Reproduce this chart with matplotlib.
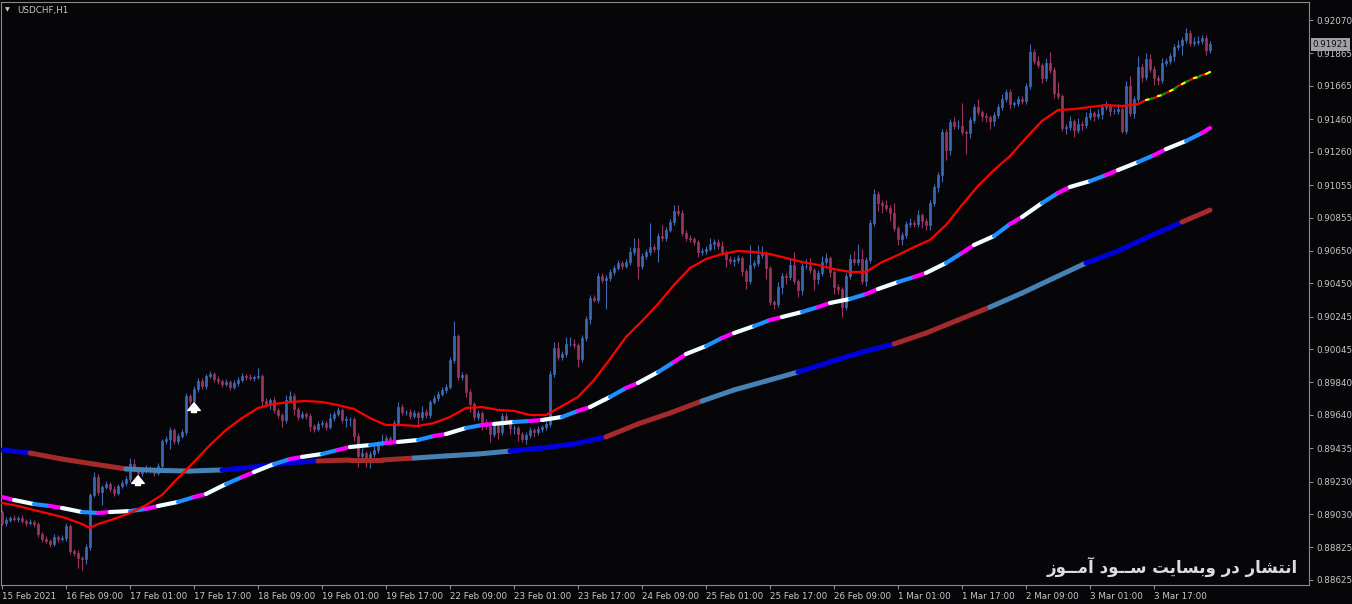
import matplotlib
matplotlib.use("Agg")
import matplotlib.pyplot as plt
import numpy as np
from matplotlib.collections import LineCollection

# ---- candles (H1, USDCHF) ----
first_open = 0.89043
closes = [
    0.88976, 0.88994, 0.89006, 0.89000, 0.89006, 0.88988, 0.88976, 0.88982, 0.88969, 0.88908,
    0.88877, 0.88865, 0.88846, 0.88889, 0.88877, 0.88883, 0.88957, 0.88803, 0.88791, 0.88760,
    0.88754, 0.88828, 0.89148, 0.89258, 0.89166, 0.89197, 0.89215, 0.89185, 0.89160, 0.89203,
    0.89222, 0.89246, 0.89338, 0.89302, 0.89283, 0.89295, 0.89314, 0.89302, 0.89283, 0.89326,
    0.89480, 0.89492, 0.89548, 0.89480, 0.89511, 0.89535, 0.89757, 0.89726, 0.89800, 0.89849,
    0.89818, 0.89880, 0.89892, 0.89861, 0.89849, 0.89831, 0.89843, 0.89812, 0.89837, 0.89855,
    0.89880, 0.89874, 0.89868, 0.89874, 0.89880, 0.89726, 0.89708, 0.89732, 0.89671, 0.89640,
    0.89609, 0.89732, 0.89757, 0.89677, 0.89628, 0.89646, 0.89634, 0.89572, 0.89554, 0.89585,
    0.89591, 0.89566, 0.89621, 0.89646, 0.89671, 0.89609, 0.89615, 0.89615, 0.89511, 0.89388,
    0.89406, 0.89351, 0.89400, 0.89425, 0.89462, 0.89480, 0.89498, 0.89480, 0.89591, 0.89689,
    0.89658, 0.89658, 0.89634, 0.89652, 0.89628, 0.89658, 0.89640, 0.89720, 0.89745, 0.89769,
    0.89794, 0.89812, 0.89978, 0.90126, 0.89874, 0.89886, 0.89781, 0.89708, 0.89628, 0.89652,
    0.89597, 0.89572, 0.89523, 0.89572, 0.89535, 0.89634, 0.89603, 0.89560, 0.89560, 0.89523,
    0.89492, 0.89517, 0.89548, 0.89535, 0.89554, 0.89566, 0.89585, 0.89892, 0.90052, 0.89997,
    0.90015, 0.90077, 0.90077, 0.90071, 0.89984, 0.90114, 0.90231, 0.90360, 0.90347, 0.90495,
    0.90470, 0.90483, 0.90520, 0.90544, 0.90575, 0.90557, 0.90581, 0.90643, 0.90667, 0.90557,
    0.90618, 0.90643, 0.90673, 0.90661, 0.90741, 0.90729, 0.90778, 0.90827, 0.90895, 0.90883,
    0.90760, 0.90729, 0.90723, 0.90704, 0.90643, 0.90649, 0.90661, 0.90692, 0.90704, 0.90680,
    0.90643, 0.90600, 0.90587, 0.90593, 0.90606, 0.90526, 0.90464, 0.90563, 0.90575, 0.90624,
    0.90637, 0.90544, 0.90335, 0.90323, 0.90427, 0.90495, 0.90489, 0.90563, 0.90464, 0.90409,
    0.90557, 0.90557, 0.90532, 0.90477, 0.90514, 0.90581, 0.90606, 0.90520, 0.90427, 0.90415,
    0.90304, 0.90495, 0.90600, 0.90581, 0.90600, 0.90464, 0.90593, 0.90821, 0.91000, 0.90944,
    0.90932, 0.90913, 0.90883, 0.90790, 0.90723, 0.90747, 0.90815, 0.90821, 0.90815, 0.90870,
    0.90833, 0.90809, 0.90944, 0.91043, 0.91116, 0.91381, 0.91270, 0.91442, 0.91418, 0.91418,
    0.91381, 0.91375, 0.91455, 0.91535, 0.91504, 0.91479, 0.91473, 0.91449, 0.91486, 0.91535,
    0.91584, 0.91627, 0.91553, 0.91559, 0.91584, 0.91572, 0.91664, 0.91873, 0.91818, 0.91793,
    0.91713, 0.91805, 0.91762, 0.91621, 0.91602, 0.91406, 0.91412, 0.91449, 0.91393, 0.91430,
    0.91424, 0.91473, 0.91498, 0.91479, 0.91492, 0.91535, 0.91541, 0.91510, 0.91510, 0.91522,
    0.91387, 0.91664, 0.91498, 0.91584, 0.91781, 0.91719, 0.91830, 0.91769, 0.91713, 0.91701,
    0.91805, 0.91818, 0.91848, 0.91904, 0.91916, 0.91947, 0.91990, 0.91928, 0.91935, 0.91941,
    0.91959, 0.91885, 0.91921,
]
# wick lengths above / below the body, in pips
wick_up = [
    1, 2, 1, 2, 1, 2, 1, 2, 1, 1,   1, 2, 1, 2, 1, 2, 2, 1, 1, 2,
    1, 2, 1, 3, 2, 1, 2, 1, 2, 1,   2, 2, 4, 3, 2, 1, 2, 1, 2, 2,
    1, 2, 2, 1, 2, 2, 2, 1, 2, 2,   2, 1, 2, 1, 2, 1, 2, 1, 2, 2,
    2, 1, 2, 1, 5, 1, 2, 1, 2, 1,   1, 3, 3, 2, 1, 2, 1, 2, 1, 2,
    2, 1, 3, 2, 2, 1, 2, 1, 1, 2,   3, 1, 2, 3, 2, 4, 2, 1, 2, 3,
    2, 1, 2, 2, 1, 4, 2, 1, 2, 2,   2, 2, 2, 9, 1, 2, 1, 2, 1, 2,
    1, 2, 1, 2, 1, 2, 2, 1, 2, 1,   1, 2, 2, 1, 2, 1, 2, 2, 4, 4,
    2, 4, 4, 3, 1, 2, 2, 2, 2, 2,   2, 2, 2, 2, 2, 1, 2, 3, 6, 6,
    2, 2, 15, 2, 2, 7, 2, 2, 4, 4,  2, 2, 2, 1, 1, 2, 2, 4, 2, 2,
    3, 1, 2, 2, 2, 1, 1, 12, 2, 6,  4, 1, 1, 1, 3, 2, 2, 4, 8, 1,
    2, 4, 5, 1, 2, 4, 3, 1, 1, 2,   1, 2, 3, 5, 9, 6, 2, 2, 3, 2,
    2, 3, 2, 6, 1, 2, 2, 3, 2, 3,   1, 2, 2, 2, 2, 2, 2, 2, 3, 4,
    14, 1, 2, 2, 5, 1, 2, 1, 2, 2,  3, 2, 2, 1, 2, 2, 2, 5, 2, 3,
    1, 3, 7, 2, 7, 1, 2, 3, 1, 4,   2, 3, 3, 1, 3, 2, 3, 1, 2, 3,
    1, 3, 6, 2, 7, 2, 4, 3, 2, 2,   3, 2, 2, 2, 3, 2, 3, 2, 3, 3,
    2, 2, 2,
]
wick_dn = [
    1, 2, 1, 1, 2, 1, 2, 1, 2, 2,   2, 1, 2, 1, 2, 1, 2, 2, 2, 6,
    7, 3, 2, 1, 2, 8, 1, 2, 2, 1,   1, 2, 2, 1, 2, 2, 1, 2, 2, 1,
    2, 2, 6, 2, 2, 1, 2, 2, 1, 2,   2, 2, 1, 2, 2, 2, 1, 2, 1, 2,
    1, 2, 1, 2, 1, 3, 2, 3, 2, 2,   4, 2, 1, 4, 2, 1, 2, 3, 2, 1,
    2, 2, 1, 2, 1, 2, 4, 4, 3, 7,   2, 3, 4, 2, 2, 1, 2, 2, 1, 2,
    2, 2, 2, 1, 6, 2, 2, 2, 1, 2,   1, 2, 1, 2, 2, 2, 3, 5, 2, 2,
    5, 2, 5, 2, 4, 2, 2, 4, 4, 4,   2, 3, 2, 3, 2, 2, 2, 2, 2, 2,
    2, 2, 1, 2, 5, 2, 2, 3, 1, 2,   2, 18, 2, 2, 1, 2, 1, 2, 2, 8,
    2, 2, 2, 2, 8, 2, 2, 1, 2, 2,   2, 2, 2, 2, 3, 2, 2, 1, 3, 2,
    2, 5, 2, 3, 2, 3, 5, 2, 2, 2,   2, 7, 2, 3, 2, 4, 4, 2, 2, 4,
    3, 2, 2, 7, 3, 2, 2, 3, 4, 3,   6, 2, 2, 2, 2, 2, 3, 2, 2, 5,
    5, 2, 5, 2, 4, 4, 2, 2, 2, 2,   4, 3, 3, 2, 3, 4, 6, 3, 2, 2,
    2, 13, 3, 2, 2, 3, 3, 5, 3, 2,  2, 2, 3, 2, 2, 2, 2, 2, 2, 2,
    3, 2, 2, 3, 2, 2, 4, 2, 4, 2,   3, 2, 2, 3, 2, 3, 2, 3, 2, 2,
    1, 2, 2, 3, 2, 3, 2, 2, 4, 3,   2, 2, 2, 3, 2, 6, 2, 2, 2, 2,
    2, 3, 2,
]

# ---- fast MA (red, last bars drawn in signal colours) ----
fast_bars = [
    0, 4, 8, 12, 16, 20, 22, 24, 28, 32, 36, 40, 44, 48, 52, 56, 60, 64, 68, 72,
    76, 80, 84, 88, 92, 96, 100, 104, 108, 112, 116, 120, 124, 128, 132, 136, 140, 144, 148, 152,
    156, 160, 164, 168, 172, 176, 180, 184, 188, 192, 196, 200, 204, 208, 212, 216, 220, 224, 228, 232,
    236, 240, 244, 248, 252, 256, 260, 264, 268, 272, 276, 280, 284,
    286, 287, 288, 289, 290, 291, 292, 293, 294, 295, 296, 297, 298, 299, 300, 301, 302,
]
fast_vals = [
    0.89099, 0.89080, 0.89055, 0.89031, 0.89006, 0.88969, 0.88945, 0.88969, 0.89000, 0.89037,
    0.89086, 0.89148, 0.89252, 0.89351, 0.89455, 0.89548, 0.89621, 0.89683, 0.89708, 0.89720,
    0.89726, 0.89720, 0.89701, 0.89677, 0.89621, 0.89578, 0.89578, 0.89572, 0.89591, 0.89628,
    0.89683, 0.89689, 0.89671, 0.89665, 0.89640, 0.89640, 0.89695, 0.89751, 0.89855, 0.89984,
    0.90120, 0.90218, 0.90323, 0.90440, 0.90544, 0.90600, 0.90630, 0.90649, 0.90643, 0.90630,
    0.90606, 0.90581, 0.90563, 0.90538, 0.90520, 0.90520, 0.90581, 0.90624, 0.90673, 0.90717,
    0.90809, 0.90932, 0.91049, 0.91147, 0.91233, 0.91344, 0.91449, 0.91516, 0.91522, 0.91535,
    0.91547, 0.91541, 0.91553,
    0.91578, 0.91584, 0.91590, 0.91602, 0.91609, 0.91621, 0.91633, 0.91645, 0.91664, 0.91676,
    0.91689, 0.91701, 0.91713, 0.91719, 0.91732, 0.91738, 0.91750,
]
# state of each segment: 0 normal, 1 yellow, 2 green
fast_state = [0] * 73 + [1, 2, 0, 1, 2, 0, 1, 2, 0, 1, 2, 0, 1, 2, 0, 1]

# ---- medium MA (magenta / white / blue) ----
mid_bars = [
    0, 3, 8, 12, 15, 20, 24, 27, 32, 36, 39, 44, 48, 51, 56, 60, 63, 68, 72, 75,
    80, 84, 87, 92, 96, 99, 104, 108, 111, 116, 120, 123, 128, 132, 135, 140, 144, 147, 152, 156,
    159, 164, 168, 171, 176, 180, 183, 188, 192, 195, 200, 204, 207, 212, 216, 219, 224, 228, 231, 236,
    240, 243, 248, 252, 255, 260, 264, 267, 272, 276, 279, 284, 288, 291, 296, 300, 302,
]
mid_vals = [
    0.89135, 0.89117, 0.89092, 0.89080, 0.89068, 0.89043, 0.89037, 0.89043, 0.89049, 0.89062,
    0.89080, 0.89105, 0.89135, 0.89154, 0.89215, 0.89258, 0.89289, 0.89338, 0.89369, 0.89382,
    0.89400, 0.89425, 0.89443, 0.89455, 0.89468, 0.89474, 0.89486, 0.89511, 0.89523, 0.89560,
    0.89578, 0.89585, 0.89597, 0.89603, 0.89609, 0.89628, 0.89665, 0.89689, 0.89751, 0.89806,
    0.89837, 0.89904, 0.89966, 0.90015, 0.90064, 0.90114, 0.90144, 0.90187, 0.90224, 0.90243,
    0.90274, 0.90304, 0.90329, 0.90354, 0.90384, 0.90415, 0.90458, 0.90489, 0.90514, 0.90575,
    0.90637, 0.90686, 0.90741, 0.90815, 0.90858, 0.90944, 0.91006, 0.91043, 0.91079, 0.91116,
    0.91147, 0.91196, 0.91239, 0.91276, 0.91326, 0.91375, 0.91406,
]
mid_state = [
    0, 1, 2, 0, 1, 2, 0, 1, 2, 0, 1, 2, 0, 1, 2, 0, 1, 2, 0, 1,
    2, 0, 1, 2, 0, 1, 2, 0, 1, 2, 0, 1, 2, 0, 1, 2, 0, 1, 2, 0,
    1, 2, 0, 1, 2, 0, 1, 2, 0, 1, 2, 0, 1, 2, 0, 1, 2, 0, 1, 2,
    0, 1, 2, 0, 1, 2, 0, 1, 2, 0, 1, 2, 0, 1, 2, 0,
]

# ---- slow MA (blue / brown / steel blue) ----
slow_bars = [
    0, 7, 15, 23, 31, 39, 47, 55, 63, 71, 79, 87, 95, 103, 111, 119, 127, 135, 143, 151,
    159, 167, 175, 183, 191, 199, 207, 215, 223, 231, 239, 247, 255, 263, 271, 279, 287, 295, 302,
]
slow_vals = [
    0.89425, 0.89406, 0.89369, 0.89338, 0.89308, 0.89299, 0.89295, 0.89302, 0.89320, 0.89345,
    0.89357, 0.89363, 0.89363, 0.89375, 0.89388, 0.89400, 0.89418, 0.89437, 0.89462, 0.89505,
    0.89585, 0.89652, 0.89726, 0.89794, 0.89849, 0.89904, 0.89966, 0.90027, 0.90077, 0.90144,
    0.90224, 0.90304, 0.90390, 0.90483, 0.90575, 0.90649, 0.90741, 0.90827, 0.90901,
]
slow_state = [
    0, 1, 1, 1, 2, 2, 2, 0, 0, 0, 1, 1, 1, 2, 2, 2, 0, 0, 0, 1,
    1, 1, 2, 2, 2, 0, 0, 0, 1, 1, 1, 2, 2, 2, 0, 0, 0, 1,
]

# ---- signal arrows (bar, price of arrow tip) ----
arrow_bars = [34, 48]
arrow_prices = [0.89283, 0.89732]

# ---- axes ----
price_ticks = [0.92070, 0.91865, 0.91665, 0.91460, 0.91260, 0.91055, 0.90855, 0.90650, 0.90450,
               0.90245, 0.90045, 0.89840, 0.89640, 0.89435, 0.89230, 0.89030, 0.88825, 0.88625]
time_bars = [0, 16, 32, 48, 64, 80, 96, 112, 128, 144, 160, 176, 192, 208, 224, 240, 256, 272, 288]
time_labels = ["15 Feb 2021", "16 Feb 09:00", "17 Feb 01:00", "17 Feb 17:00", "18 Feb 09:00",
               "19 Feb 01:00", "19 Feb 17:00", "22 Feb 09:00", "23 Feb 01:00", "23 Feb 17:00",
               "24 Feb 09:00", "25 Feb 01:00", "25 Feb 17:00", "26 Feb 09:00", "1 Mar 01:00",
               "1 Mar 17:00", "2 Mar 09:00", "3 Mar 01:00", "3 Mar 17:00"]
symbol = "USDCHF,H1"
# "انتشار در وبسایت ســود آمــوز" written with Arabic presentation forms in visual order
watermark = ("\uFEAF\uFEEE\u0640\u0640\uFEE3\uFE81 \uFEA9\uFEEE\u0640\u0640\uFEB3 "
             "\uFE96\uFEF3\uFE8E\uFEB4\uFE91\uFEED \uFEAD\uFEA9 "
             "\uFEAD\uFE8E\uFEB8\uFE98\uFEE7\uFE8D")

BG = "#060609"
FG = "#c8c8c8"
BULL = "#3d68b5"
BEAR = "#9a3562"
FAST_COLORS = ["#ff0000", "#ffff00", "#00a000"]
MID_COLORS = ["#ff00ff", "#f0ffff", "#1e90ff"]
SLOW_COLORS = ["#0000dd", "#a52a2a", "#4682b4"]

plt.rcParams["font.family"] = ["DejaVu Sans"]

W, H = 1352, 604
fig = plt.figure(figsize=(W / 100, H / 100), dpi=100, facecolor=BG)
ax = fig.add_axes([1 / W, (H - 585) / H, 1308 / W, 583 / H], facecolor=BG)

c = np.array(closes)
o = np.r_[first_open, c[:-1]]
x = np.arange(len(c))
top = np.maximum(o, c)
bot = np.minimum(o, c)
hi = top + np.array(wick_up) * 1e-4
lo = bot - np.array(wick_dn) * 1e-4
cols = np.where(c >= o, BULL, BEAR)

ax.vlines(x, lo, hi, colors=cols, linewidth=0.8, zorder=2)
ax.bar(x, top - bot, bottom=bot, width=0.72, color=cols, edgecolor=cols,
       linewidth=0.5, zorder=3)


def colored_line(bars, vals, state, palette, lw, z):
    pts = np.column_stack([bars, vals])
    segs = np.stack([pts[:-1], pts[1:]], axis=1)
    lc = LineCollection(segs, colors=[palette[s] for s in state], linewidths=lw,
                        capstyle="round", zorder=z)
    ax.add_collection(lc)


colored_line(slow_bars, slow_vals, slow_state, SLOW_COLORS, 3.6, 4)
colored_line(mid_bars, mid_vals, mid_state, MID_COLORS, 3.0, 5)
colored_line(fast_bars, fast_vals, fast_state, FAST_COLORS, 1.6, 6)

for b, p in zip(arrow_bars, arrow_prices):
    ax.annotate("", xy=(b, p), xytext=(0, -11), textcoords="offset points",
                arrowprops=dict(arrowstyle="simple,head_width=0.9,head_length=0.55,tail_width=0.35",
                                color="white", mutation_scale=10), zorder=7)

ax.set_xlim(-0.25, 326.75)
ax.set_ylim(0.88594, 0.92181)

ax.yaxis.tick_right()
ax.set_yticks(price_ticks)
ax.set_yticklabels([f"{p:.5f}" for p in price_ticks])
ax.set_xticks(time_bars)
ax.set_xticklabels(time_labels, ha="left")
ax.tick_params(colors="#9a9a9a", labelcolor=FG, labelsize=6.3, length=3, width=0.7,
               direction="out", pad=2)
for s in ax.spines.values():
    s.set_color("#8a8a8a")
    s.set_linewidth(0.8)

# current price marker
ax.annotate(f"{closes[-1]:.5f}", xy=(1, closes[-1]), xycoords=("axes fraction", "data"),
            xytext=(2.5, 0), textcoords="offset points", ha="left", va="center",
            fontsize=6.3, color="#101010", annotation_clip=False, zorder=10,
            bbox=dict(boxstyle="square,pad=0.2", facecolor="#a0a0a6", edgecolor="none"))

fig.text(5 / W, 1 - 10 / H, "\u25BC", color=FG, fontsize=4.5, va="center", ha="left")
fig.text(17 / W, 1 - 10 / H, symbol, color=FG, fontsize=6.3, va="center", ha="left")
fig.text(1298 / W, 1 - 567 / H, watermark, color="#dcdce4", fontsize=12, fontweight="bold",
         va="center", ha="right")

fig.savefig("out.png", dpi=100, facecolor=BG)
